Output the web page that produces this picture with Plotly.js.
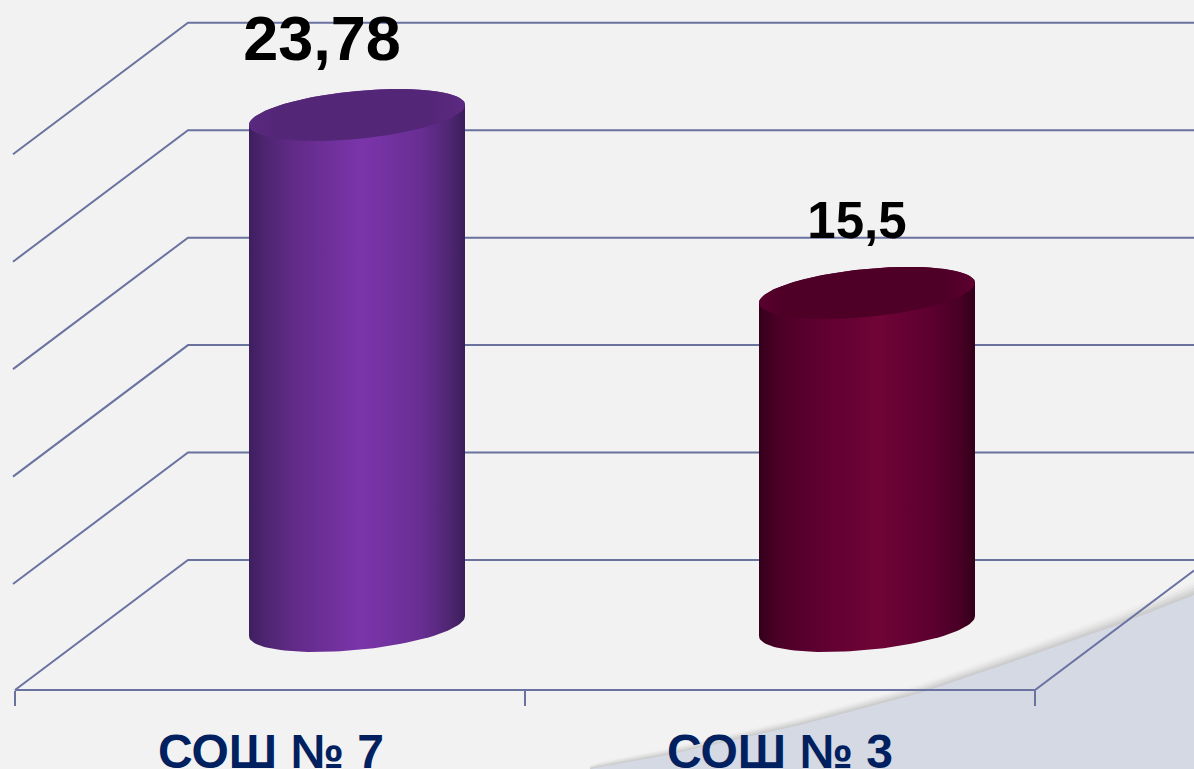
<!DOCTYPE html>
<html>
<head>
<meta charset="utf-8">
<script src="https://cdn.plot.ly/plotly-3.0.1.min.js"></script>
<style>html,body{margin:0;padding:0;background:#f2f2f2;overflow:hidden}</style>
</head>
<body>
<div id="chart" style="width:1194px;height:769px"></div>
<script>
// Data
var categories = ["СОШ № 7", "СОШ № 3"];
var values = [23.78, 15.5];
var valueLabels = ["23,78", "15,5"];
var gridValues = [0, 5, 10, 15, 20, 25];

// Scene geometry (x axis runs in screen-like units, y axis in chart values)
var pxPerUnit = 21.49;
var yTop = 560 / pxPerUnit, yBottom = -209 / pxPerUnit;
var wallX = 188, floorX = 15, floorEndX = 1035, rightX = 1194;
var depthY = -130 / pxPerUnit;
var categoryCenters = [271, 780];
var boundaryTicks = [15, 525, 1035];
var barCenters = [357, 867];
var barRadius = 108;
var baseY = -66 / pxPerUnit, tiltY = 10 / pxPerUnit, minorY = 24 / pxPerUnit;
var labelX = [322, 857], labelY = [516 / pxPerUnit, 335 / pxPerUnit], labelSize = [63, 51];
var sideScales = [
  [[0, "#3d1f5e"], [0.07, "#4d2570"], [0.2, "#602a87"], [0.52, "#7b35aa"], [0.8, "#682e93"], [0.93, "#4f2672"], [1, "#3a1d58"]],
  [[0, "#33001a"], [0.08, "#4a0026"], [0.25, "#5c0030"], [0.55, "#700437"], [0.8, "#5c0030"], [0.93, "#480025"], [1, "#32001a"]]
];
var capScales = [
  [[0, "#5a2980"], [0.12, "#542678"], [0.85, "#542678"], [1, "#5c2a82"]],
  [[0, "#5a002f"], [0.12, "#4e0026"], [0.85, "#4e0026"], [1, "#5c0030"]]
];
var swooshX = [590, 600, 667, 800, 920, 1000, 1117, 1194];
var swooshY = [-209, -207, -195, -165, -133, -106, -65, -35];
var lineColor = "#6a72a0";

function arc(cx, cy, from, to) {
  var xs = [], ys = [], n = 60;
  for (var i = 0; i <= n; i++) {
    var t = (from + (to - from) * i / n) * Math.PI;
    xs.push(cx + barRadius * Math.cos(t));
    ys.push(cy + tiltY * Math.cos(t) + minorY * Math.sin(t));
  }
  return {x: xs, y: ys};
}
function lineTrace(xs, ys, w) {
  return {type: "scatter", mode: "lines", x: xs, y: ys, hoverinfo: "skip", showlegend: false,
          line: {color: lineColor, width: w}};
}
function swoosh(dy, color) {
  return {type: "scatter", mode: "lines", hoverinfo: "skip", showlegend: false,
    x: swooshX.concat([rightX, swooshX[0]]),
    y: swooshY.map(function (v, i) { return (v + dy * (0.3 + 0.7 * i / (swooshY.length - 1))) / pxPerUnit; })
       .concat([yBottom, yBottom]),
    fill: "toself", fillcolor: color, line: {width: 0, color: color}};
}

var traces = [];
traces.push(swoosh(13, "#eeeeee"), swoosh(10, "#e6e6e6"), swoosh(7, "#dcdcdc"), swoosh(4, "#d1d1d1"),
            swoosh(1.5, "#cacaca"), swoosh(0, "#d4d9e4"));

var slope = depthY / (floorX - wallX);
gridValues.forEach(function (v) {
  var startX = v === 0 ? floorX : floorX - 2;
  traces.push(lineTrace([startX, wallX, rightX], [v + (startX - wallX) * slope, v, v], 2));
});
traces.push(lineTrace([floorX, floorEndX, rightX],
  [depthY, depthY, depthY + (rightX - floorEndX) * slope], 2));

values.forEach(function (v, i) {
  var cx = barCenters[i], bot = baseY, top = baseY + v;
  var lower = arc(cx, bot, 1, 2), upper = arc(cx, top, 0, 1);
  var cap = arc(cx, top, 0, 2);
  traces.push({type: "scatter", mode: "lines", hoverinfo: "skip", showlegend: false, name: categories[i],
    x: lower.x.concat(upper.x), y: lower.y.concat(upper.y), fill: "toself",
    fillgradient: {type: "horizontal", colorscale: sideScales[i]},
    line: {width: 0, color: sideScales[i][3][1]}});
  traces.push({type: "scatter", mode: "lines", hoverinfo: "skip", showlegend: false,
    x: cap.x, y: cap.y, fill: "toself",
    fillgradient: {type: "horizontal", colorscale: capScales[i]},
    line: {width: 0, color: capScales[i][1][1]}});
});

traces.push({type: "scatter", mode: "text", x: labelX, y: labelY, text: valueLabels,
  textposition: "middle center", hoverinfo: "skip", showlegend: false,
  textfont: {family: "Liberation Sans, Arial, sans-serif", size: labelSize, color: "#000000", weight: 700},
  cliponaxis: false});

var layout = {
  width: 1194, height: 769,
  margin: {l: 0, r: 0, t: 0, b: 0, pad: 0},
  paper_bgcolor: "#f2f2f2", plot_bgcolor: "#f2f2f2",
  showlegend: false, hovermode: false,
  xaxis: {
    range: [0, 1194], fixedrange: true, showgrid: false, zeroline: false, showline: false,
    anchor: "free", position: 79 / 769,
    tickmode: "array", tickvals: categoryCenters, ticktext: categories,
    ticks: "outside", ticklen: 19, tickcolor: "rgba(0,0,0,0)", tickwidth: 1,
    tickangle: 0, automargin: false,
    tickfont: {family: "Liberation Sans, Arial, sans-serif", size: 48, color: "#002060", weight: 700},
    minor: {tickmode: "array", tickvals: boundaryTicks, ticks: "outside", ticklen: 15, tickcolor: lineColor, tickwidth: 2, showgrid: false}
  },
  yaxis: {
    range: [yBottom, yTop], fixedrange: true, showgrid: false, zeroline: false, showline: false,
    showticklabels: false, ticks: "", domain: [0, 1], automargin: false
  }
};
Plotly.newPlot("chart", traces, layout, {displayModeBar: false, staticPlot: true});
</script>
</body>
</html>
